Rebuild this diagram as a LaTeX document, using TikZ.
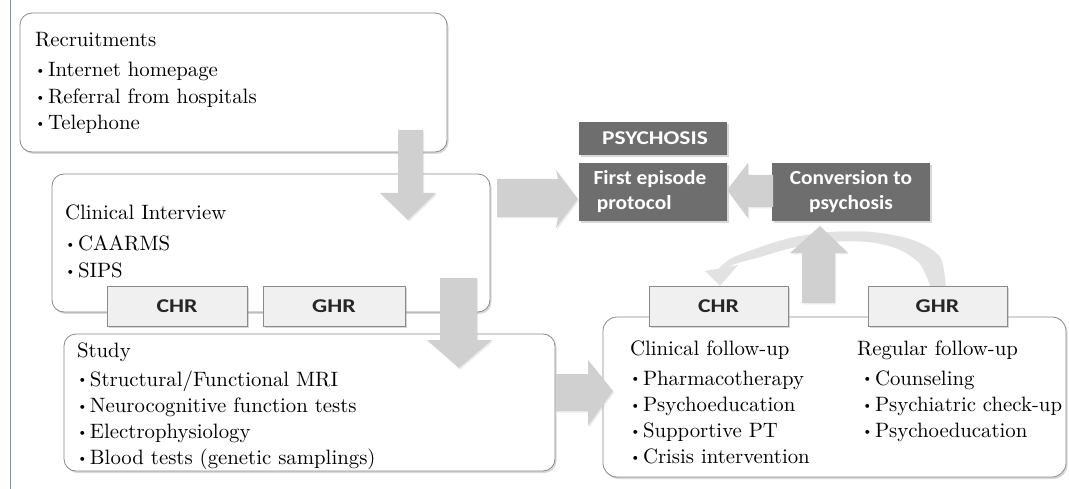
\documentclass[tikz,border=0pt]{standalone}
\usepackage{fontspec}
\setmainfont{lmroman10-regular}[Extension=.otf, BoldFont=lmroman10-bold]
\usepackage{graphicx}
\newfontfamily\calfont{Carlito}
\usetikzlibrary{shadows}
\definecolor{boxline}{HTML}{8A8A8A}
\definecolor{arrowgray}{HTML}{D0D0D0}
\definecolor{bandgray}{HTML}{E2E2E2}
\definecolor{darkfill}{HTML}{6E6E6E}
\definecolor{tabfill}{HTML}{F0F0F0}
\definecolor{leftline}{HTML}{7F8FA8}
\newcommand{\bul}{\makebox[13pt][l]{\raisebox{0.25ex}{\scalebox{0.65}{\textbullet}}}}
\newcommand{\wide}[2]{\scalebox{#1}[1]{#2}}
\tikzset{
  roundbox/.style={draw=boxline, line width=0.8pt, fill=white, rounded corners=12pt,
    inner sep=0pt, outer sep=0pt, anchor=north west,
    drop shadow={shadow xshift=1.5pt, shadow yshift=-2pt, opacity=0.3}},
  tabbox/.style={draw=boxline, line width=0.6pt, fill=tabfill, inner sep=0pt, outer sep=0pt,
    anchor=north west, minimum width=140pt, minimum height=40pt,
    font=\calfont\bfseries\fontsize{19.5}{22}\selectfont, text=black!85,
    drop shadow={shadow xshift=1.5pt, shadow yshift=-2pt, opacity=0.3}},
  darkbox/.style={fill=darkfill, inner sep=0pt, outer sep=0pt, anchor=north west,
    font=\calfont\bfseries\fontsize{20}{25}\selectfont, text=white,
    drop shadow={shadow xshift=1.5pt, shadow yshift=-2pt, opacity=0.3}},
  txt/.style={font=\fontsize{20.8}{26.3}\selectfont, inner sep=0pt, outer sep=0pt,
    anchor=base west, align=left, text=black},
  blockarrow/.style={fill=arrowgray,
    drop shadow={shadow xshift=1.2pt, shadow yshift=-1.5pt, opacity=0.15}},
}
\begin{document}
\begin{tikzpicture}[x=1pt,y=-1pt]
\useasboundingbox[fill=white] (0,0) rectangle (1069,489);
\draw[leftline, line width=0.8pt] (10,0) -- (10,489);

% main boxes
\node[roundbox, minimum width=427pt, minimum height=139pt] (rec) at (20,13) {};
\node[roundbox, minimum width=438pt, minimum height=138pt] (cli) at (52,174) {};
\node[roundbox, minimum width=491pt, minimum height=137pt] (stu) at (64,334) {};
\node[roundbox, minimum width=463pt, minimum height=160pt, rounded corners=14pt] (fol) at (603,317) {};

% texts (multi-line nodes are anchored at the baseline of their last line)
\node[txt] (rech) at (35,47) {Recruitments};
\node[txt] (recl) at (35,129.6) {\bul Internet homepage\\\bul Referral from hospitals\\\bul Telephone};
\node[txt] (clih) at (65,220) {Clinical Interview};
\node[txt] (clil) at (65,277.3) {\bul CAARMS\\\bul SIPS};
\node[txt] (stuh) at (77,357) {Study};
\node[txt] (stul) at (77,464.9) {\bul Structural/Functional MRI\\\bul Neurocognitive function tests\\\bul Electrophysiology\\\bul Blood tests (genetic samplings)};
\node[txt] (folh) at (630,355) {Clinical follow-up};
\node[txt] (foll) at (630,463.9) {\bul Pharmacotherapy\\\bul Psychoeducation\\\bul Supportive PT\\\bul Crisis intervention};
\node[txt] (regh) at (857,355) {Regular follow-up};
\node[txt] (regl) at (862,437.6) {\bul Counseling\\\bul Psychiatric check-up\\\bul Psychoeducation};

% dark boxes
\node[darkbox, minimum width=148pt, minimum height=33pt, font=\calfont\bfseries\fontsize{19.5}{22}\selectfont] (psy) at (579,122) {\hspace*{4pt}\wide{1.2}{PSYCHOSIS}};
\node[darkbox, minimum width=148pt, minimum height=58pt] (fep) at (579,163) {\wide{1.07}{\begin{tabular}{@{}l@{}}First episode\\\hspace*{3pt}protocol\end{tabular}}\hspace*{6pt}};
\node[darkbox, minimum width=158pt, minimum height=58pt] (conv) at (772,163) {\wide{1.07}{\begin{tabular}{@{}c@{}}Conversion to\\psychosis\end{tabular}}};

% curved band from GHR to CHR
\fill[bandgray] plot[smooth] coordinates {(946,288) (940,257) (913,240) (872,232) (830,232) (790,238) (755,249) (732,258) (719,268)}
  -- plot[smooth] coordinates {(725,268) (738,263) (760,257) (792,248) (830,242) (868,242) (898,249) (920,264) (931,288)} -- cycle;
\fill[bandgray] (705,271) -- (738,265) -- (720,286) -- cycle;

% tabs
\node[tabbox] (chra) at (107,286) {\wide{1.22}{CHR}};
\node[tabbox, minimum width=142pt] (ghra) at (263,286) {\wide{1.22}{GHR}};
\node[tabbox, minimum width=139pt] (chrb) at (649,286) {\wide{1.22}{CHR}};
\node[tabbox, minimum width=139pt] (ghrb) at (868,286) {\wide{1.22}{GHR}};

% block arrows
\fill[blockarrow] (398,130) -- (423,130) -- (423,193) -- (436,193) -- (408,220) -- (380,193) -- (398,193) -- cycle;
\fill[blockarrow] (440,278) -- (477,278) -- (477,340) -- (492,340) -- (459,368) -- (427,340) -- (440,340) -- cycle;
\fill[blockarrow] (497,179) -- (558,179) -- (556,170) -- (578,199) -- (556,228) -- (558,217) -- (497,217) -- cycle;
\fill[blockarrow] (556,374) -- (588,374) -- (588,360) -- (613,391) -- (588,426) -- (588,411) -- (556,411) -- cycle;
\fill[blockarrow] (773,175) -- (748,175) -- (748,163) -- (727,190) -- (748,218) -- (748,207) -- (773,207) -- cycle;
\fill[blockarrow] (802,303) -- (802,253) -- (790,253) -- (820,226) -- (848,253) -- (835,253) -- (835,303) -- cycle;
\end{tikzpicture}
\end{document}
